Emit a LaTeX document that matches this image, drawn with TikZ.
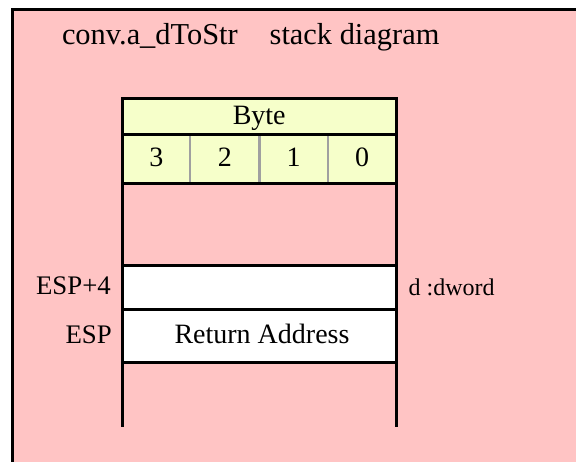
\documentclass[tikz,border=0pt]{standalone}
\usepackage{fontspec}
\setmainfont{Liberation Serif}
\usepackage{tikz}

\definecolor{stackpink}{RGB}{255,196,196}
\definecolor{headyellow}{RGB}{246,255,202}
\definecolor{sepgray}{RGB}{160,160,160}

\begin{document}
\begin{tikzpicture}[x=1pt, y=-1pt,
  lbl/.style={font=\fontsize{28}{34}\selectfont, inner sep=0pt},
  reglbl/.style={lbl, font=\fontsize{26.8}{32}\selectfont},
  rowline/.style={line width=3pt},
  colsep/.style={sepgray, line width=2.3pt}]
\useasboundingbox (0,0) rectangle (576,461);
\clip (0,0) rectangle (576,461);
% frame
\draw [fill=stackpink, line width=3pt] (12.5,9.5) rectangle (600,490);
\node [lbl, font=\fontsize{30.4}{36}\selectfont, anchor=base west] (title) at (61.8,44.5) {conv.a\_dToStr\hspace*{32pt}stack diagram};
% byte header
\fill [headyellow] (122.5,98.5) rectangle (396,183);
\fill [white] (122.5,265) rectangle (396,362.7);
\draw [colsep] (190.3,134) -- (190.3,183);
\draw [colsep] (259.4,134) -- (259.4,183);
\draw [colsep] (328,134) -- (328,183);
\draw [rowline] (122.5,98.5) -- (396,98.5);
\draw [rowline] (122.5,134) -- (396,134);
\draw [rowline] (122.5,183) -- (396,183);
\draw [rowline] (122.5,265) -- (396,265);
\draw [rowline] (122.5,309.3) -- (398,309.3);
\draw [rowline] (122.5,362.7) -- (396,362.7);
\draw [rowline] (122.5,97) -- (122.5,427);
\draw [rowline] (396,97) -- (396,427);
\node [lbl, anchor=base] (byte) at (259.2,124.3) {Byte};
\foreach \d/\x in {3/156.4, 2/224.9, 1/293.7, 0/362}
  \node [lbl, anchor=base] (b\d) at (\x,166) {\d};
% stack entries
\node [reglbl, anchor=base east] (espfour) at (111,294.3) {ESP+4};
\node [reglbl, anchor=base east] (esp) at (112,343.5) {ESP};
\node [lbl, anchor=base] (retaddr) at (262,343.5) {Return Address};
\node [lbl, font=\fontsize{24}{29}\selectfont, anchor=base west] (dword) at (408.5,295) {d :dword};
\end{tikzpicture}
\end{document}
